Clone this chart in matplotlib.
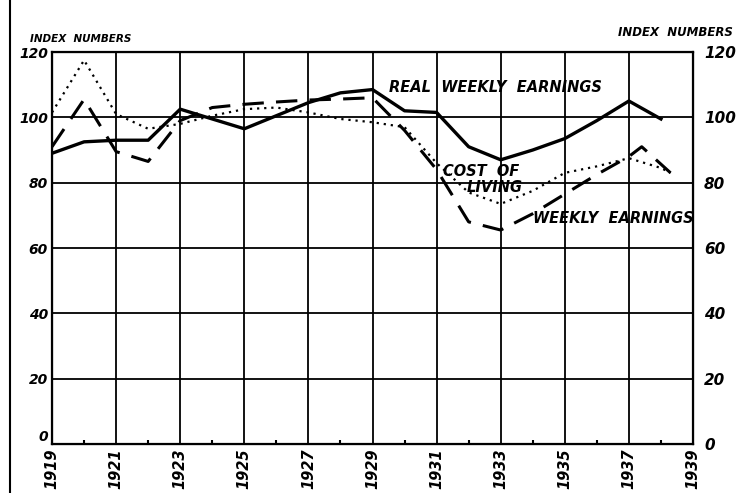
import numpy as np
import matplotlib.pyplot as plt
from matplotlib.lines import Line2D

# data (index numbers)
years = [1919, 1920, 1921, 1922, 1923, 1924, 1925, 1926, 1927, 1928,
         1929, 1930, 1931, 1932, 1933, 1934, 1935, 1936, 1937, 1938]
real_weekly = [89, 92.5, 93, 93, 102.5, 99.5, 96.5, 100.5, 104.5, 107.5,
               108.5, 102, 101.5, 91, 87, 90, 93.5, 99, 105, 99.5]
weekly_years = years[:-1] + [1937.4, 1938.3]
weekly = [91, 105.5, 89.5, 86.5, 99, 103, 104, 104.7, 105.3, 105.6,
          106, 96, 84, 68, 65.5, 70.5, 76.5, 82.5, 88, 91, 83]
cost_years = years + [1938.3]
cost = [101.5, 117.5, 101, 96.5, 98, 100.5, 102.5, 103, 101.5, 99.5,
        98.5, 97, 86, 77, 73.5, 77.5, 83, 85, 87.5, 84.5, 83]

tick_years = list(range(1919, 1940, 2))
minor_years = list(range(1920, 1939, 2))
y_ticks = [0, 20, 40, 60, 80, 100, 120]

lab = dict(fontstyle='italic', fontweight='bold', color='black')

fig = plt.figure(figsize=(7.38, 4.93), dpi=100)
ax = fig.add_axes([0.0705, 0.0994, 0.8685, 0.7951])

ax.plot(years, real_weekly, color='black', lw=2.4, solid_joinstyle='round')
ax.plot(weekly_years, weekly, color='black', lw=2.2, dashes=(7, 4))
ax.plot(cost_years, cost, color='black', lw=1.6, ls=(0, (1, 2.2)))

ax.set_xlim(1919, 1939)
ax.set_ylim(0, 120)
ax.set_xticks(tick_years)
ax.set_xticklabels([str(y) for y in tick_years], rotation=90, fontsize=10.5, **lab)
ax.set_xticks(minor_years, minor=True)
ax.set_yticks(y_ticks)
ax.set_yticklabels([str(v) for v in y_ticks], fontsize=10, **lab)
ax.get_yticklabels()[0].set_verticalalignment('bottom')  # "0" sits above the year labels
ax.tick_params(axis='x', which='major', length=0, pad=3)
ax.tick_params(axis='x', which='minor', length=3, width=1.5, direction='in')
ax.tick_params(axis='y', length=0, pad=3)
ax.grid(True, color='black', lw=1.3)
for s in ax.spines.values():
    s.set_linewidth(1.6)

# right hand scale
ax2 = ax.twinx()
ax2.set_ylim(0, 120)
ax2.set_yticks(y_ticks)
ax2.set_yticklabels([str(v) for v in y_ticks], fontsize=11, **lab)
ax2.tick_params(axis='y', length=0, pad=8)

# series labels
ax.text(1929.5, 109, 'REAL  WEEKLY  EARNINGS', fontsize=10.5, ha='left', va='center', **lab)
ax.text(1932.4, 83.5, 'COST  OF', fontsize=10.5, ha='center', va='center', **lab)
ax.text(1932.8, 78.5, 'LIVING', fontsize=10.5, ha='center', va='center', **lab)
ax.text(1936.5, 69, 'WEEKLY  EARNINGS', fontsize=10.5, ha='center', va='center', **lab)

fig.text(30 / 738, 1 - 39 / 493, 'INDEX  NUMBERS', fontsize=7.5, ha='left', va='center', **lab)
fig.text(733 / 738, 1 - 32 / 493, 'INDEX  NUMBERS', fontsize=8.5, ha='right', va='center', **lab)

# edge of the scanned page
fig.add_artist(Line2D([10 / 738, 10 / 738], [0, 1], color='black', lw=1.5))

fig.savefig('out.png', dpi=100)
